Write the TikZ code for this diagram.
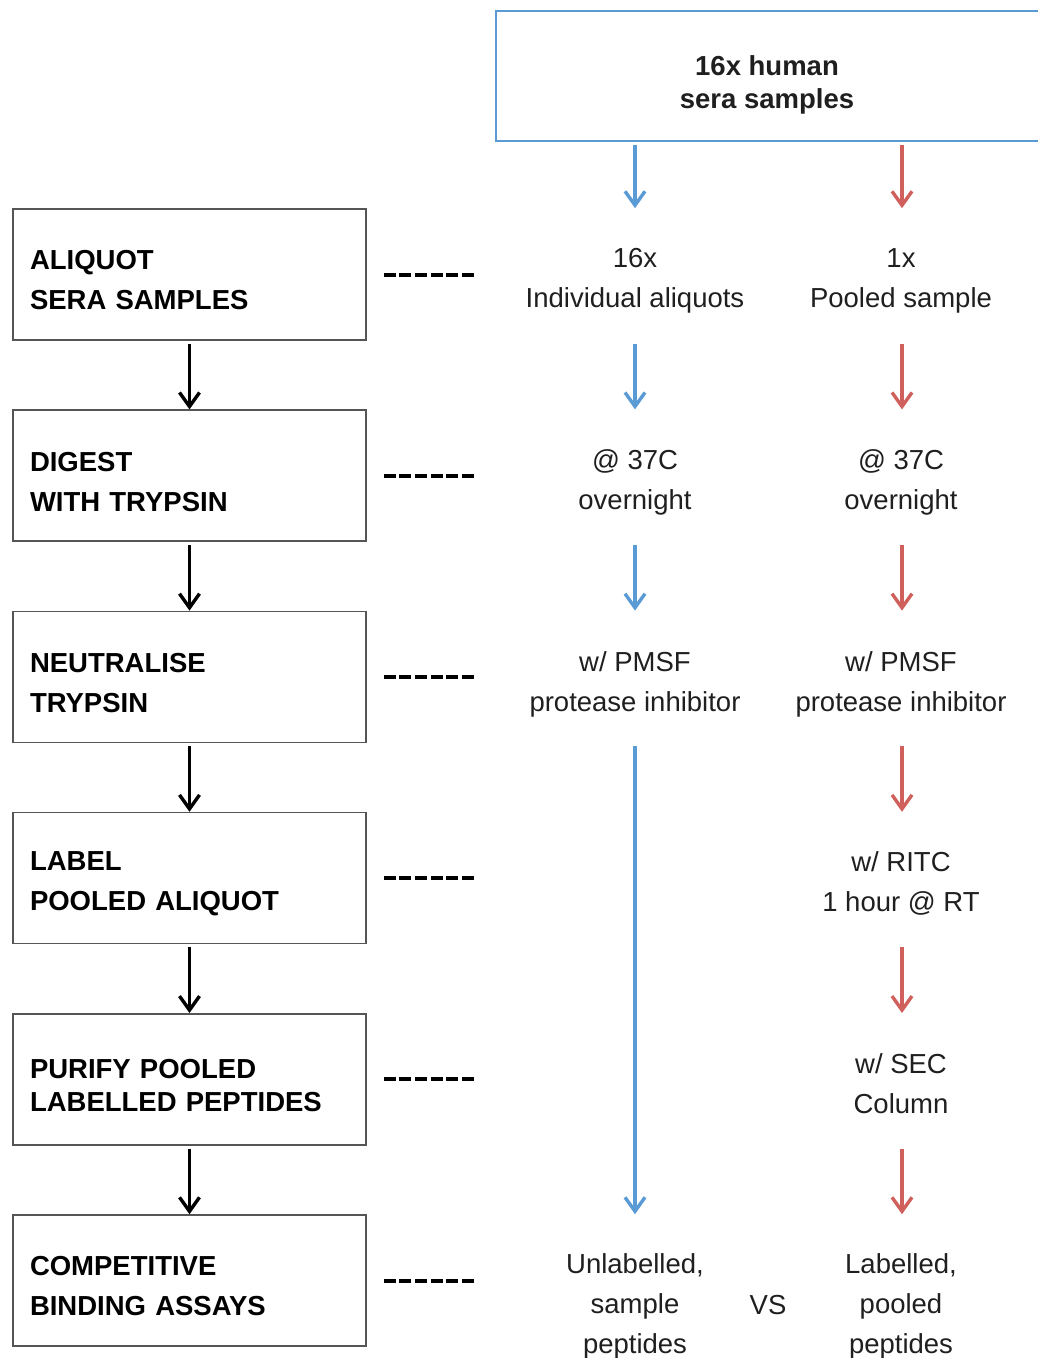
\documentclass[tikz,border=0pt]{standalone}
\usepackage{fontspec}
\setmainfont{Liberation Sans}
\usetikzlibrary{positioning,arrows.meta}
\definecolor{seqblue}{RGB}{91,155,213}
\definecolor{seqred}{RGB}{208,96,92}
\definecolor{boxgray}{RGB}{85,85,85}

\begin{document}
\begin{tikzpicture}[x=1pt,y=-1pt,
  stage/.style={draw=boxgray,line width=1.6pt,minimum height=131pt,text width=319pt,
    inner xsep=17pt,align=left,font=\fontsize{27.5}{40}\selectfont\bfseries,
    execute at begin node={\rule{0pt}{31pt}}},
  note/.style={align=center,text=black!88,font=\fontsize{27.5}{40}\selectfont},
  flow/.style={line width=3.4pt,shorten <=3pt,-{Straight Barb[length=14pt,width=20pt]}},
  link/.style={line width=4pt,dash pattern=on 12pt off 3.6pt},
  node distance=68.6pt]
\useasboundingbox (0,0) rectangle (1038,1358);

% steps on the left
\node [stage] (aliquot) at (189.5,274.5) {ALIQUOT\\SERA SAMPLES};
\node [stage,below=of aliquot] (digest) {DIGEST\\WITH TRYPSIN};
\node [stage,below=of digest] (neutral) {NEUTRALISE\\TRYPSIN};
\node [stage,below=of neutral] (label) {LABEL\\POOLED ALIQUOT};
\node [stage,below=of label,font=\fontsize{27.5}{33}\selectfont\bfseries] (purify) {PURIFY POOLED\\LABELLED PEPTIDES};
\node [stage,below=of purify] (assay) {COMPETITIVE\\BINDING ASSAYS};

\draw [flow] (aliquot) -- (digest);
\draw [flow] (digest) -- (neutral);
\draw [flow] (neutral) -- (label);
\draw [flow] (label) -- (purify);
\draw [flow] (purify) -- (assay);

\draw [link] ([xshift=17pt]aliquot.east) -- ([xshift=107pt]aliquot.east);
\draw [link] ([xshift=17pt]digest.east) -- ([xshift=107pt]digest.east);
\draw [link] ([xshift=17pt]neutral.east) -- ([xshift=107pt]neutral.east);
\draw [link] ([xshift=17pt]label.east) -- ([xshift=107pt]label.east);
\draw [link] ([xshift=17pt]purify.east) -- ([xshift=107pt]purify.east);
\draw [link] ([xshift=17pt]assay.east) -- ([xshift=107pt]assay.east);

% samples
\node [draw=seqblue,line width=1.5pt,minimum width=548pt,minimum height=130pt] (sera) at (770,76) {};
\node [note,font=\fontsize{27.5}{33}\selectfont\bfseries] (seratxt) at (767,84.5) {16x human\\sera samples};

\coordinate (bcol) at (635,0);
\coordinate (rcol) at (902,0);

% individual branch
\node [note] (indiv) at (635,281) {16x\\Individual aliquots};
\node [note] (bheat) at (635,482.5) {@ 37C\\overnight};
\node [note] (bpmsf) at (635,684) {w/ PMSF\\protease inhibitor};
\node [note] (unlab) at (635,1306) {Unlabelled,\\sample\\peptides};

\draw [flow,seqblue] (sera.south -| bcol) -- (aliquot.north -| bcol);
\draw [flow,seqblue] (aliquot.south -| bcol) -- (digest.north -| bcol);
\draw [flow,seqblue] (digest.south -| bcol) -- (neutral.north -| bcol);
\draw [flow,seqblue] (neutral.south -| bcol) -- (assay.north -| bcol);

% pooled branch
\node [note] (pool) at (901,281) {1x\\Pooled sample};
\node [note] (rheat) at (901,482.5) {@ 37C\\overnight};
\node [note] (rpmsf) at (901,684) {w/ PMSF\\protease inhibitor};
\node [note] (ritc) at (901,883.5) {w/ RITC\\1 hour @ RT};
\node [note] (sec) at (901,1083.5) {w/ SEC\\Column};
\node [note] (lab) at (901,1306) {Labelled,\\pooled\\peptides};

\draw [flow,seqred] (sera.south -| rcol) -- (aliquot.north -| rcol);
\draw [flow,seqred] (aliquot.south -| rcol) -- (digest.north -| rcol);
\draw [flow,seqred] (digest.south -| rcol) -- (neutral.north -| rcol);
\draw [flow,seqred] (neutral.south -| rcol) -- (label.north -| rcol);
\draw [flow,seqred] (label.south -| rcol) -- (purify.north -| rcol);
\draw [flow,seqred] (purify.south -| rcol) -- (assay.north -| rcol);

\node [note] (vs) at (768,1305) {VS};
\end{tikzpicture}
\end{document}
